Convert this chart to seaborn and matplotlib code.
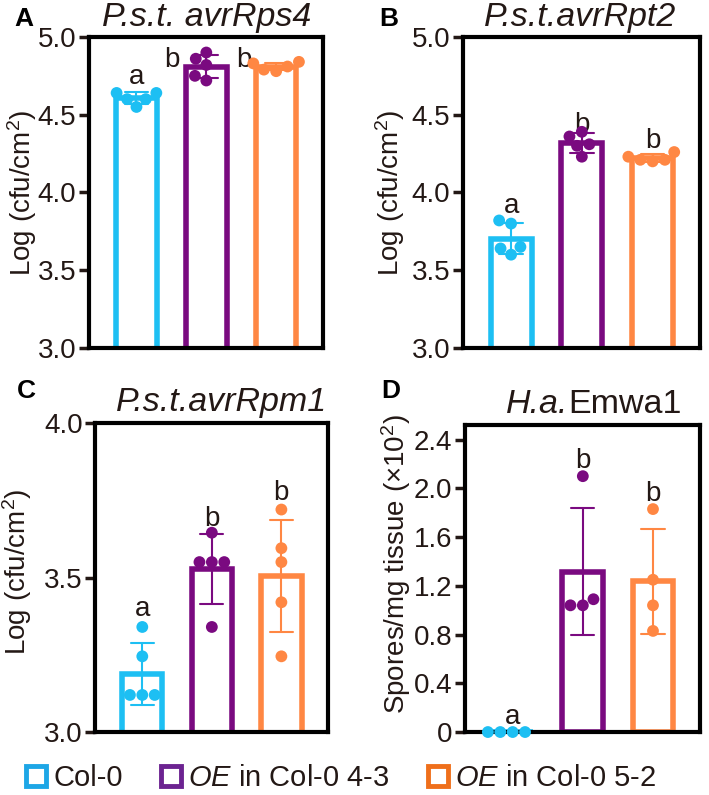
import pandas as pd
import matplotlib.pyplot as plt
import seaborn as sns
from matplotlib.lines import Line2D

# groups and colours
groups = ['Col-0', 'OE in Col-0 4-3', 'OE in Col-0 5-2']
bar_colors = ['#1DBFF3', '#7A0A80', '#FF8743']
legend_colors = ['#1DA6E6', '#6C2391', '#EF6F1B']
legend_labels = ['Col-0', r'$\mathit{OE}$ in Col-0 4-3', r'$\mathit{OE}$ in Col-0 5-2']

# A: P.s.t. avrRps4, log(cfu/cm2)
rps4_col0 = [4.64, 4.64, 4.60, 4.60, 4.55]
rps4_oe43 = [4.90, 4.86, 4.82, 4.75, 4.72]
rps4_oe52 = [4.84, 4.83, 4.81, 4.79, 4.78]

# B: P.s.t. avrRpt2
rpt2_col0 = [3.82, 3.80, 3.65, 3.64, 3.60]
rpt2_oe43 = [4.39, 4.36, 4.31, 4.30, 4.23]
rpt2_oe52 = [4.26, 4.23, 4.21, 4.21, 4.20]

# C: P.s.t. avrRpm1
rpm1_col0 = [3.34, 3.245, 3.12, 3.12, 3.12]
rpm1_oe43 = [3.645, 3.55, 3.55, 3.55, 3.34]
rpm1_oe52 = [3.72, 3.595, 3.55, 3.42, 3.245]

# D: H.a. Emwa1, spores/mg tissue (x10^2)
emwa1_col0 = [0.0, 0.0, 0.0, 0.0]
emwa1_oe43 = [2.10, 1.09, 1.04, 1.04]
emwa1_oe52 = [1.83, 1.25, 1.04, 0.83]

# significance letters (text, baseline y, x position)
rps4_letters = [('a', 4.695, 0.0), ('b', 4.81, 0.5), ('b', 4.81, 1.54)]
rpt2_letters = [('a', 3.87, 0.0), ('b', 4.39, 1.0), ('b', 4.285, 2.0)]
rpm1_letters = [('a', 3.375, 0.0), ('b', 3.668, 1.0), ('b', 3.75, 2.0)]
emwa1_letters = [('a', 0.07, 0.0), ('b', 2.17, 1.0), ('b', 1.90, 2.0)]

ab_ticks = [3.0, 3.5, 4.0, 4.5, 5.0]
c_ticks = [3.0, 3.5, 4.0]
d_ticks = [0, 0.4, 0.8, 1.2, 1.6, 2.0, 2.4]
d_tick_labels = ['0', '0.4', '0.8', '1.2', '1.6', '2.0', '2.4']

txt = '#231815'
sns.set_style('white')
plt.rcParams['font.family'] = ['Liberation Sans', 'DejaVu Sans']
plt.rcParams['mathtext.fontset'] = 'custom'
plt.rcParams['mathtext.rm'] = 'Liberation Sans'
plt.rcParams['mathtext.it'] = 'Liberation Sans:italic'
plt.rcParams['text.color'] = txt
plt.rcParams['axes.labelcolor'] = txt
plt.rcParams['ytick.color'] = txt


def long_df(col0, oe43, oe52):
    rows = []
    for g, vals in zip(groups, [col0, oe43, oe52]):
        for v in vals:
            rows.append({'group': g, 'value': v})
    return pd.DataFrame(rows)


def draw_panel(ax, df, ylim, ticks, tick_labels, ylabel, letters):
    sns.barplot(data=df, x='group', y='value', hue='group', order=groups,
                hue_order=groups, palette=bar_colors, fill=False, linewidth=4,
                width=0.58, errorbar='sd', capsize=0.33,
                err_kws={'linewidth': 1.5}, legend=False, ax=ax)
    sns.swarmplot(data=df, x='group', y='value', hue='group', order=groups,
                  hue_order=groups, palette=bar_colors, size=8.5, legend=False,
                  clip_on=False, zorder=5, ax=ax)
    ax.set_ylim(*ylim)
    ax.set_xlim(-0.68, 2.67)
    ax.set_yticks(ticks)
    ax.set_yticklabels(tick_labels, fontsize=20)
    ax.set_xticks([])
    ax.set_xlabel('')
    ax.set_ylabel(ylabel, fontsize=20)
    for s in ax.spines.values():
        s.set_visible(True)
        s.set_linewidth(3)
        s.set_color('black')
    ax.tick_params(axis='y', direction='out', length=7, width=2.5, left=True, pad=2)
    for t, y, x in letters:
        ax.text(x, y, t, ha='center', va='baseline', fontsize=20)


fig = plt.figure(figsize=(7.09, 7.95), dpi=100)
axA = fig.add_axes([0.1255, 0.5623, 0.330, 0.3912])
axB = fig.add_axes([0.653, 0.5623, 0.3343, 0.3912])
axC = fig.add_axes([0.134, 0.0792, 0.3286, 0.3887])
axD = fig.add_axes([0.6558, 0.0792, 0.3315, 0.3862])

ab_labels = ['%.1f' % t for t in ab_ticks]
c_labels = ['%.1f' % t for t in c_ticks]
cfu = 'Log (cfu/cm$^2$)'

draw_panel(axA, long_df(rps4_col0, rps4_oe43, rps4_oe52), (3.0, 5.0), ab_ticks, ab_labels, cfu, rps4_letters)
draw_panel(axB, long_df(rpt2_col0, rpt2_oe43, rpt2_oe52), (3.0, 5.0), ab_ticks, ab_labels, cfu, rpt2_letters)
draw_panel(axC, long_df(rpm1_col0, rpm1_oe43, rpm1_oe52), (3.0, 4.0), c_ticks, c_labels, cfu, rpm1_letters)
draw_panel(axD, long_df(emwa1_col0, emwa1_oe43, emwa1_oe52), (0, 2.52), d_ticks, d_tick_labels,
           'Spores/mg tissue (\u00d710$^2$)', emwa1_letters)

axA.yaxis.set_label_coords(-0.215, 0.5)
axB.yaxis.set_label_coords(-0.236, 0.5)
axC.yaxis.set_label_coords(-0.262, 0.518)
axD.yaxis.set_label_coords(-0.221, 0.547)

# titles
axA.text(0.504, 1.061, 'P.s.t. avrRps4', transform=axA.transAxes, ha='center', va='center',
         fontsize=24.5, fontstyle='italic')
axB.text(0.494, 1.061, 'P.s.t.avrRpt2', transform=axB.transAxes, ha='center', va='center',
         fontsize=24.5, fontstyle='italic')
axC.text(0.545, 1.065, 'P.s.t.avrRpm1', transform=axC.transAxes, ha='center', va='center',
         fontsize=24.5, fontstyle='italic')
axD.text(0.438, 1.039, 'H.a.', transform=axD.transAxes, ha='right', va='baseline',
         fontsize=24.5, fontstyle='italic')
axD.text(0.438, 1.039, 'Emwa1', transform=axD.transAxes, ha='left', va='baseline',
         fontsize=24.5)

# panel letters
for lab, x, y in [('A', 0.034, 0.976), ('B', 0.549, 0.976), ('C', 0.037, 0.508), ('D', 0.551, 0.508)]:
    fig.text(x, y, lab, ha='center', va='center', fontsize=19, fontweight='bold', color='black')

handles = [Line2D([], [], linestyle='none', marker='s', markersize=15, markerfacecolor='white',
                  markeredgecolor=c, markeredgewidth=3.5) for c in legend_colors]
fig.legend(handles, legend_labels, loc='center', bbox_to_anchor=(0.48, 0.0214), ncol=3,
           frameon=False, fontsize=21, handlelength=0.8, handletextpad=0.2,
           columnspacing=1.25, borderaxespad=0)

fig.savefig('out.png', dpi=100)
